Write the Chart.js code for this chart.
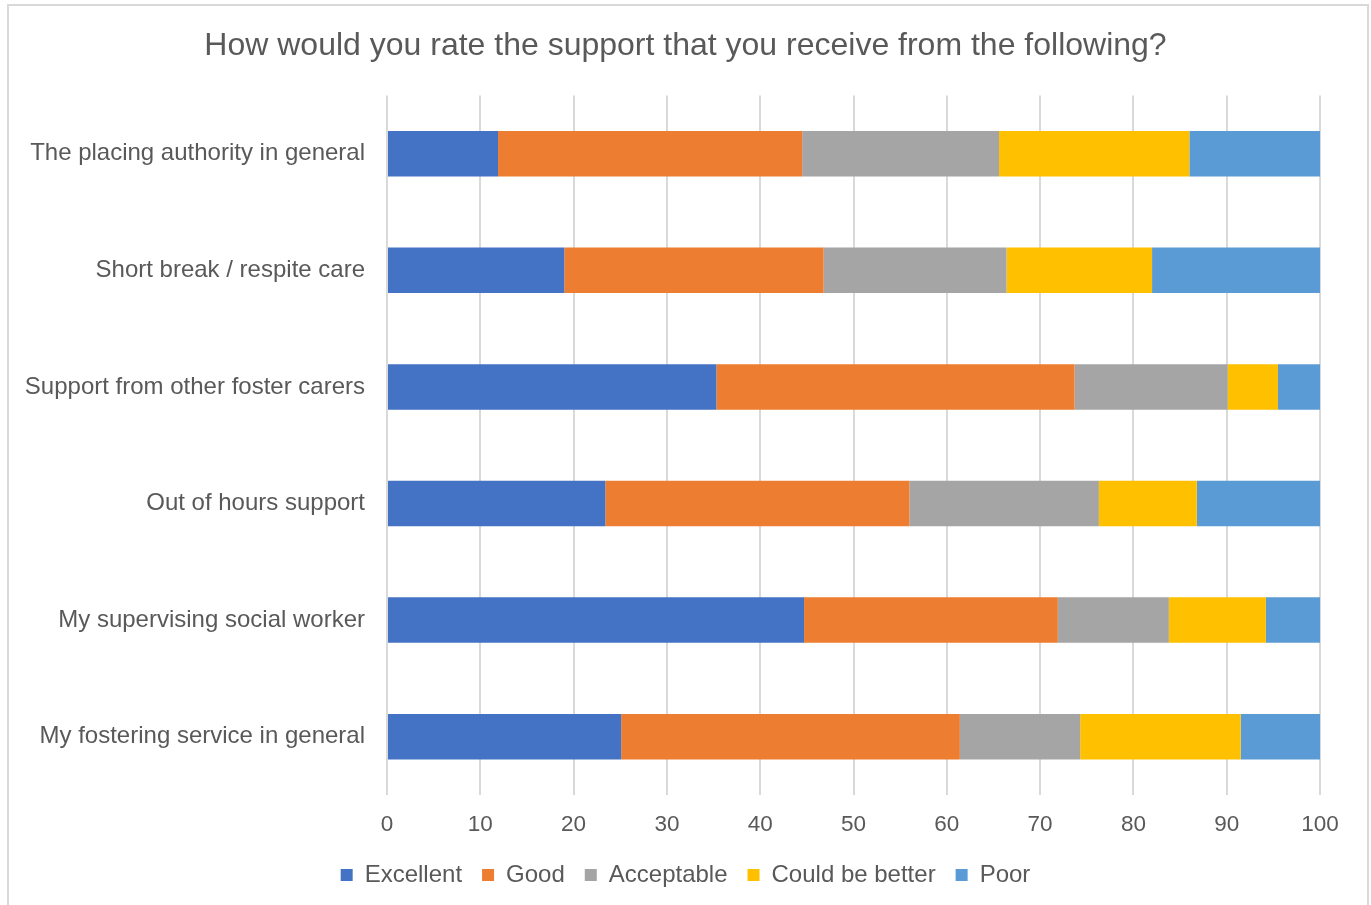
<!DOCTYPE html>
<html lang="en">
<head>
    <meta charset="UTF-8">
    <title>How would you rate the support that you receive from the following?</title>
    <script src="https://cdn.jsdelivr.net/npm/chart.js@4.4.0/dist/chart.umd.min.js"></script>
    <style>
        html, body { margin: 0; padding: 0; background: #fff; }
        #wrap { width: 1371px; height: 905px; }
    </style>
</head>
<body>
    <div id="wrap"><canvas id="supportChart"></canvas></div>
    <script>
        const categories = [
            'The placing authority in general',
            'Short break / respite care',
            'Support from other foster carers',
            'Out of hours support',
            'My supervising social worker',
            'My fostering service in general'
        ];
        const excellent     = [11.9, 19.0, 35.3, 23.4, 44.7, 25.1];
        const good          = [32.6, 27.8, 38.4, 32.6, 27.2, 36.3];
        const acceptable    = [21.1, 19.6, 16.4, 20.3, 11.9, 12.9];
        const couldBeBetter = [20.4, 15.6,  5.4, 10.5, 10.4, 17.2];
        const poor          = [14.0, 18.0,  4.5, 13.2,  5.8,  8.5];

        const FONT = "'Liberation Sans', Arial, sans-serif";
        const TEXT = '#595959';

        // white background + light frame like the Excel chart area
        const frame = {
            id: 'frame',
            beforeDraw(chart) {
                const ctx = chart.ctx;
                ctx.save();
                ctx.fillStyle = '#fff';
                ctx.fillRect(0, 0, chart.width, chart.height);
                ctx.strokeStyle = '#d9d9d9';
                ctx.lineWidth = 2;
                ctx.strokeRect(8, 5, 1360, 920);
                ctx.restore();
            }
        };

        const mk = (label, data, color) => ({
            label, data,
            backgroundColor: color,
            borderWidth: 0,
            barPercentage: 0.39,
            categoryPercentage: 1
        });

        new Chart(document.getElementById('supportChart'), {
            type: 'bar',
            data: {
                labels: categories,
                datasets: [
                    mk('Excellent', excellent, '#4472C4'),
                    mk('Good', good, '#ED7D31'),
                    mk('Acceptable', acceptable, '#A5A5A5'),
                    mk('Could be better', couldBeBetter, '#FFC000'),
                    mk('Poor', poor, '#5B9BD5')
                ]
            },
            options: {
                indexAxis: 'y',
                responsive: true,
                maintainAspectRatio: false,
                animation: false,
                layout: { padding: { left: 0, right: 0, top: 0, bottom: 8 } },
                scales: {
                    x: {
                        stacked: true,
                        min: 0,
                        max: 100,
                        ticks: { stepSize: 10, color: TEXT, font: { family: FONT, size: 22.5 }, padding: 16 },
                        grid: { color: '#d9d9d9', lineWidth: 2, drawTicks: false },
                        border: { display: false },
                        afterFit: s => { s.height = 48; }
                    },
                    y: {
                        stacked: true,
                        ticks: { color: TEXT, font: { family: FONT, size: 24 }, padding: 22 },
                        grid: { display: false, drawTicks: false },
                        border: { display: false },
                        afterFit: s => { s.width = 387; }
                    },
                    yRight: {
                        type: 'category',
                        position: 'right',
                        ticks: { display: false },
                        grid: { display: false, drawTicks: false },
                        border: { display: false },
                        afterFit: s => { s.width = 51; }
                    }
                },
                plugins: {
                    title: {
                        display: true,
                        text: 'How would you rate the support that you receive from the following?',
                        color: TEXT,
                        font: { family: FONT, size: 32, weight: 'normal' },
                        padding: { top: 27, bottom: 30 }
                    },
                    legend: {
                        position: 'bottom',
                        labels: {
                            color: TEXT,
                            font: { family: FONT, size: 24 },
                            boxWidth: 12,
                            boxHeight: 12,
                            padding: 20
                        }
                    },
                    tooltip: { enabled: false }
                }
            },
            plugins: [frame]
        });
    </script>
</body>
</html>
